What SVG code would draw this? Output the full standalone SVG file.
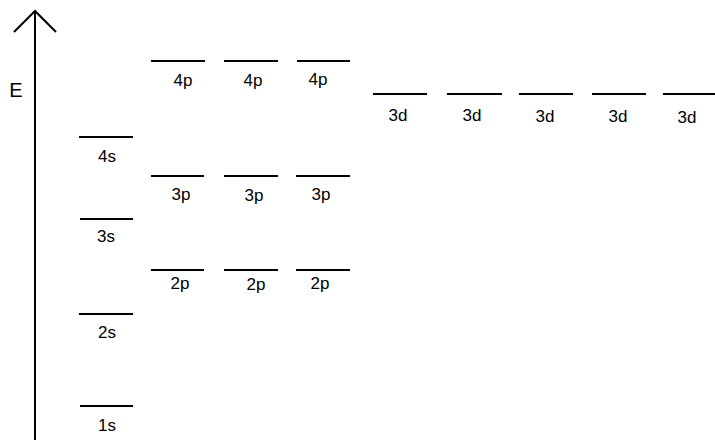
<svg xmlns="http://www.w3.org/2000/svg" width="715" height="440" viewBox="0 0 715 440">
<style>
.lvl{stroke:#000;stroke-width:2;fill:none}
.ax{stroke:#000;stroke-width:2;fill:none}
text{font-family:"Liberation Sans",Arial,sans-serif;font-size:17px;fill:#000;text-anchor:middle}
</style>
<rect width="715" height="440" fill="#fff"/>
<g id="axis">
<line class="ax" x1="35" y1="12" x2="35" y2="440"/>
<polyline class="ax" points="14,32 35,11 56,32"/>
<text x="16" y="97" style="font-size:20px">E</text>
</g>
<g id="s1"><line class="lvl" x1="80" y1="406" x2="133" y2="406"/><text x="107" y="431">1s</text></g>
<g id="s2"><line class="lvl" x1="79" y1="314" x2="133" y2="314"/><text x="107" y="338">2s</text></g>
<g id="s3"><line class="lvl" x1="80" y1="219" x2="133" y2="219"/><text x="106" y="242">3s</text></g>
<g id="s4"><line class="lvl" x1="79" y1="137" x2="133" y2="137"/><text x="107" y="162">4s</text></g>
<g id="p2a"><line class="lvl" x1="151" y1="270" x2="204" y2="270"/><text x="180" y="289">2p</text></g>
<g id="p2b"><line class="lvl" x1="224" y1="270" x2="278" y2="270"/><text x="256" y="290">2p</text></g>
<g id="p2c"><line class="lvl" x1="296" y1="270" x2="350" y2="270"/><text x="320" y="289">2p</text></g>
<g id="p3a"><line class="lvl" x1="151" y1="176" x2="204" y2="176"/><text x="181" y="200">3p</text></g>
<g id="p3b"><line class="lvl" x1="224" y1="176" x2="278" y2="176"/><text x="254" y="201">3p</text></g>
<g id="p3c"><line class="lvl" x1="296" y1="176" x2="350" y2="176"/><text x="321" y="200">3p</text></g>
<g id="p4a"><line class="lvl" x1="151" y1="61" x2="205" y2="61"/><text x="183" y="86">4p</text></g>
<g id="p4b"><line class="lvl" x1="224" y1="61" x2="278" y2="61"/><text x="253" y="86">4p</text></g>
<g id="p4c"><line class="lvl" x1="297" y1="61" x2="350" y2="61"/><text x="318" y="85">4p</text></g>
<g id="d1"><line class="lvl" x1="373" y1="94" x2="427" y2="94"/><text x="398" y="121">3d</text></g>
<g id="d2"><line class="lvl" x1="447" y1="94" x2="502" y2="94"/><text x="472" y="121">3d</text></g>
<g id="d3"><line class="lvl" x1="519" y1="94" x2="573" y2="94"/><text x="545" y="122">3d</text></g>
<g id="d4"><line class="lvl" x1="592" y1="94" x2="646" y2="94"/><text x="618" y="122">3d</text></g>
<g id="d5"><line class="lvl" x1="663" y1="94" x2="715" y2="94"/><text x="687" y="123">3d</text></g>
</svg>
